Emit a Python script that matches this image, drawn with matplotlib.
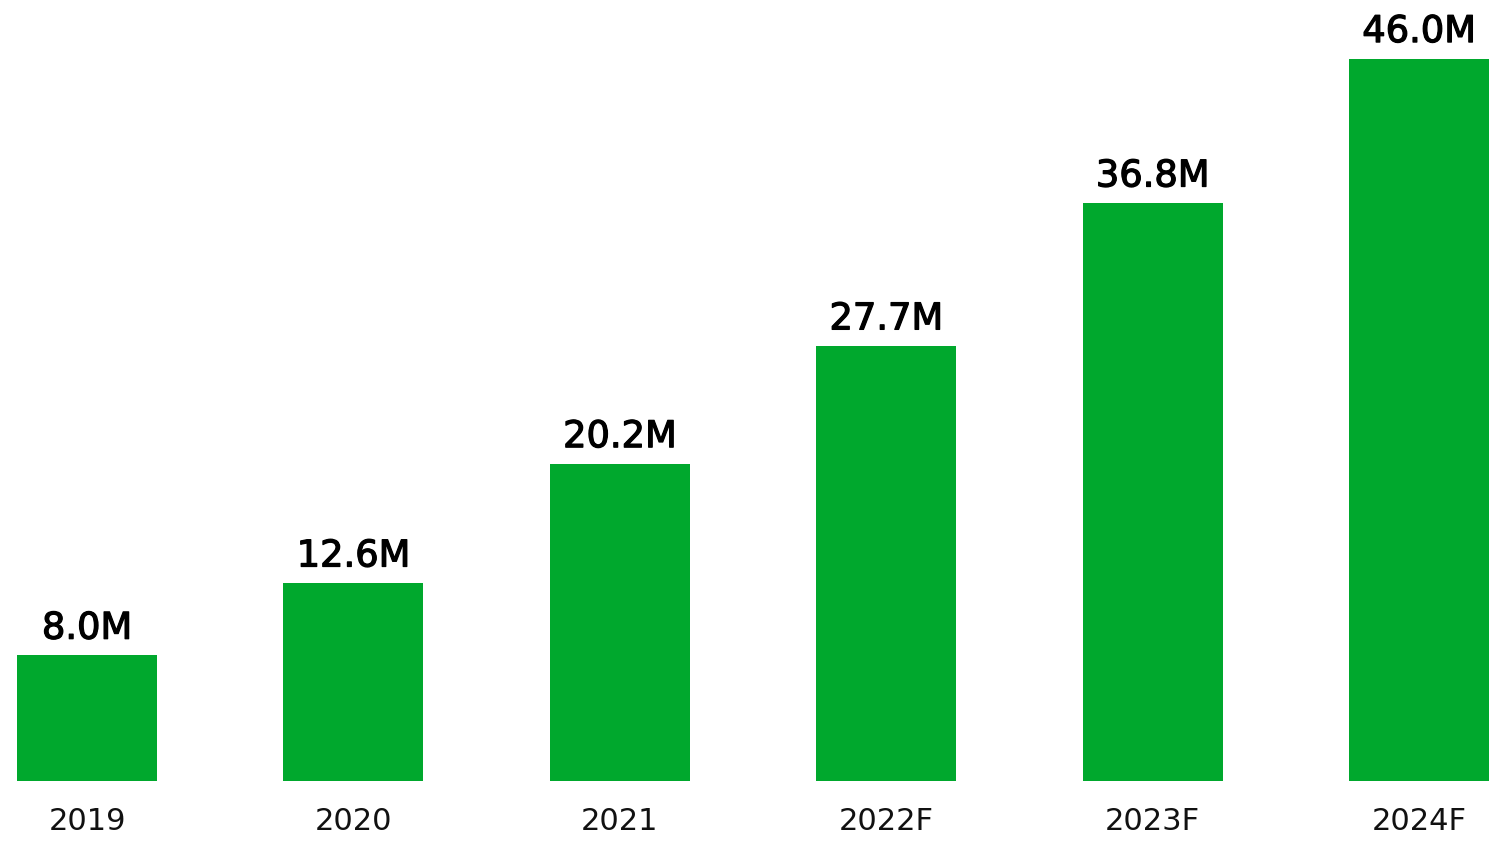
import matplotlib
matplotlib.use("Agg")
import matplotlib.pyplot as plt
import matplotlib.patheffects as pe

years = ["2019", "2020", "2021", "2022F", "2023F", "2024F"]
values = [8.0, 12.6, 20.2, 27.7, 36.8, 46.0]
bar_labels = ["8.0M", "12.6M", "20.2M", "27.7M", "36.8M", "46.0M"]

green = "#00A82D"
fam = ["DejaVu Sans"]

fig = plt.figure(figsize=(15.11, 8.48), dpi=100, facecolor="white")
ax = fig.add_axes((0, 67/848, 1, 781/848))

x = range(len(years))
bars = ax.bar(x, values, width=0.525, color=green)

# 値ラベル(少し太めに見せる)
for b, lab in zip(bars, bar_labels):
    ax.annotate(lab, (b.get_x() + b.get_width()/2, b.get_height()),
                xytext=(0, 12), textcoords="offset points",
                ha="center", va="baseline", fontsize=26.5, fontweight="normal",
                family=fam, color="black",
                path_effects=[pe.withStroke(linewidth=0.9, foreground="black")])

ax.set_xlim(-0.3266, 5.345)
ax.set_ylim(0, 49.74)
ax.set_xticks(list(x))
ax.set_xticklabels(years, fontsize=22, family=fam, color="#111111")
ax.tick_params(axis="x", length=0, pad=19)
ax.set_yticks([])
for s in ax.spines.values():
    s.set_visible(False)

fig.savefig("out.png", dpi=100, facecolor="white")
